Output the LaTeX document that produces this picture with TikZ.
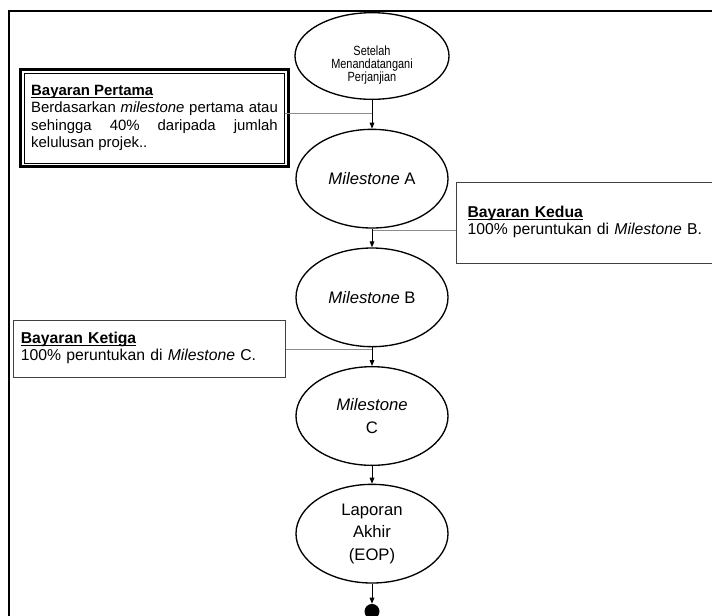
\documentclass[tikz,border=0pt]{standalone}
\usepackage{fontspec}
\setmainfont{Liberation Sans}
\newfontfamily\sempit[FakeStretch=0.82]{Liberation Sans}
\usetikzlibrary{positioning,arrows.meta,shapes.geometric,calc}
\newcommand{\tajuk}[1]{\underline{\smash{\textbf{#1}}}\vphantom{B}}

\begin{document}
\begin{tikzpicture}[x=0.75pt,y=-0.75pt, ms/.style={ellipse,draw,line width=1pt,minimum width=114pt,minimum height=74pt,inner sep=0pt,align=center,font=\fontsize{12.5}{17}\selectfont}, bayar/.style={rectangle,draw=black!75,line width=0.75pt,align=left,font=\fontsize{11.8}{13}\selectfont}, alir/.style={-{Triangle[length=4.5pt,width=3.5pt]},line width=0.75pt}, sambung/.style={draw=black!45,line width=0.6pt}]
\useasboundingbox (0,0) rectangle (712,615);
\draw[line width=1.9pt] (9,625) |- (725,11);
\node[ms,minimum width=115.5pt,minimum height=65pt,text height=38.7pt,text depth=0pt,font=\sempit\fontsize{10}{10}\selectfont] (mula) at (372,56) {Setelah\\Menandatangani\\Perjanjian};
\node[ms,below=21.5pt of mula] (msA) {\textit{Milestone} A};
\node[ms,below=14pt of msA] (msB) {\textit{Milestone} B};
\node[ms,below=14pt of msB] (msC) {\textit{Milestone}\\C};
\node[ms,below=13.25pt of msC] (lapor) {Laporan\\Akhir\\(EOP)};
\node[circle,fill=black,minimum size=11.25pt,inner sep=0pt,below=15pt of lapor] (tamat) {};
\node[bayar,draw=black,line width=0.7pt,text width=185pt,align=justify,inner xsep=5.3pt,minimum height=67.5pt,font=\fontsize{11.2}{13}\selectfont] (b1) at (154.5,118) {\tajuk{Bayaran Pertama}\\Berdasarkan \textit{milestone} pertama atau\linebreak sehingga 40\% daripada jumlah\linebreak kelulusan projek..};
\draw[line width=1.8pt] ($(b1.north west)+(-3,-3)$) rectangle ($(b1.south east)+(3,3)$);
\node[bayar,anchor=west,text width=250pt,inner xsep=8.25pt,minimum height=60.75pt] (b2) at (456,222.5) {\tajuk{Bayaran Kedua}\\100\% peruntukan di \textit{Milestone} B.};
\node[bayar,text width=193pt,inner xsep=5.8pt,minimum height=42.75pt] (b3) at (149.5,348.5) {\tajuk{Bayaran Ketiga}\\100\% peruntukan di \textit{Milestone} C.};
\coordinate (j1) at (372,113);
\coordinate (j2) at (372,230);
\coordinate (j3) at (372,349);
\draw[sambung] (b1.east |- j1) -- (j1);
\draw[sambung] (b2.west |- j2) -- (j2);
\draw[sambung] (b3.east |- j3) -- (j3);
\draw[alir] (mula.south) -- (msA.north);
\draw[alir] (msA.south) -- (msB.north);
\draw[alir] (msB.south) -- (msC.north);
\draw[alir] (msC.south) -- (lapor.north);
\draw[alir] (lapor.south) -- (tamat.north);
\end{tikzpicture}
\end{document}
